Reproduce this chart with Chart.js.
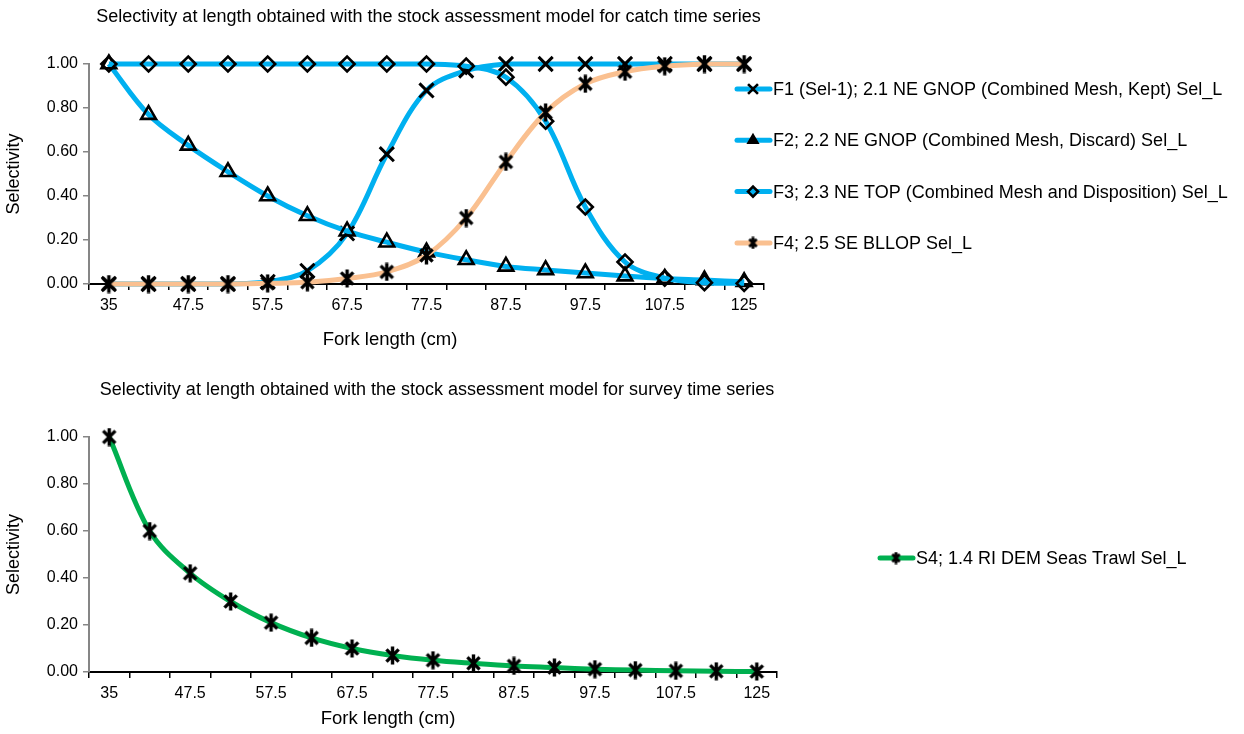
<!DOCTYPE html>
<html lang="en">
<head>
<meta charset="UTF-8">
<title>Selectivity at length</title>
<script src="https://cdn.jsdelivr.net/npm/chart.js"></script>
<style>
    body { margin: 0; background: #fff; }
    canvas { display: block; }
</style>
</head>
<body>
<canvas id="chartCatch" width="1244" height="364"></canvas>
<canvas id="chartSurvey" width="1244" height="370"></canvas>

<script>
    // categorias de comprimento (cm) - so metade aparece no eixo
    const lengths = ['35', '42.5', '47.5', '52.5', '57.5', '62.5', '67.5', '72.5', '77.5',
        '82.5', '87.5', '92.5', '97.5', '102.5', '107.5', '115', '125'];

    // seletividade - series de captura
    const f1Sel = [0, 0, 0, 0, 0.01, 0.06, 0.23, 0.59, 0.88, 0.97, 1, 1, 1, 1, 1, 1, 1];
    const f2Sel = [1, 0.77, 0.63, 0.51, 0.40, 0.31, 0.24, 0.19, 0.145, 0.11, 0.08, 0.064, 0.05, 0.036, 0.025, 0.018, 0.01];
    const f3Sel = [1, 1, 1, 1, 1, 1, 1, 1, 1, 0.99, 0.94, 0.74, 0.35, 0.10, 0.027, 0.006, 0.003];
    const f4Sel = [0, 0, 0, 0, 0.003, 0.008, 0.025, 0.055, 0.13, 0.30, 0.555, 0.78, 0.91, 0.965, 0.99, 1, 1];

    // seletividade - serie de pesquisa
    const s4Sel = [1, 0.60, 0.42, 0.30, 0.21, 0.145, 0.10, 0.07, 0.05, 0.037, 0.026, 0.019, 0.012, 0.008, 0.005, 0.003, 0.002];

    const yTicks = [0, 0.2, 0.4, 0.6, 0.8, 1.0];

    const FONT = '"Liberation Sans", Arial, sans-serif';
    const BLUE = '#00B0F0';
    const PEACH = '#FAC090';
    const GREEN = '#00B050';

    Chart.defaults.font.family = FONT;
    Chart.defaults.color = '#000';

    // marcador estrela do Excel: um X com traco vertical
    function marcadorEstrela(size, lw) {
        const c = document.createElement('canvas');
        c.width = size;
        c.height = size;
        const g = c.getContext('2d');
        g.strokeStyle = '#000';
        g.lineWidth = lw;
        const m = lw, s = size - lw;
        g.beginPath();
        g.moveTo(m, m); g.lineTo(s, s);
        g.moveTo(s, m); g.lineTo(m, s);
        g.moveTo(size / 2, 0.5); g.lineTo(size / 2, size - 0.5);
        g.stroke();
        return c;
    }
    const estrela = marcadorEstrela(19, 3.4);
    const estrelaLegenda = marcadorEstrela(13, 2.8);

    // titulos e legenda lateral desenhados no canvas
    const extrasPlugin = {
        id: 'extras',
        afterDraw(chart, args, opts) {
            const ctx = chart.ctx;
            const area = chart.chartArea;
            ctx.save();
            ctx.fillStyle = '#000';
            ctx.textBaseline = 'middle';
            ctx.textAlign = 'center';
            ctx.font = '18px ' + FONT;
            ctx.fillText(opts.title, (area.left + area.right) / 2 + opts.titleShift, opts.titleY);
            ctx.font = '18.5px ' + FONT;
            ctx.fillText('Fork length (cm)', opts.xTitleX, opts.xTitleY);

            ctx.textAlign = 'left';
            ctx.font = '18px ' + FONT;
            chart.data.datasets.forEach(function (ds, i) {
                const y = opts.legendTop + i * opts.legendGap;
                const x = opts.legendLeft;
                ctx.strokeStyle = ds.borderColor;
                ctx.lineWidth = 5;
                ctx.lineCap = 'round';
                ctx.beginPath();
                ctx.moveTo(x + 2, y);
                ctx.lineTo(x + 35, y);
                ctx.stroke();
                ctx.lineCap = 'butt';
                ctx.strokeStyle = '#000';
                ctx.lineWidth = 2.6;
                if (ds.pointStyle === estrela) {
                    ctx.drawImage(estrelaLegenda, x + 11.5, y - 6.5);
                } else {
                    ctx.fillStyle = ds.pointStyle == 'rectRot' ? ds.borderColor : '#000';
                    const r = ds.pointStyle == 'crossRot' ? 7 : 5;
                    Chart.helpers.drawPoint(ctx, { pointStyle: ds.pointStyle, radius: r, rotation: 0, borderWidth: 2.6 }, x + 18, y);
                }
                ctx.fillStyle = '#000';
                ctx.fillText(ds.label, x + 38, y + 1);
            });
            ctx.restore();
        }
    };

    function serie(label, data, color, style, order) {
        let raio = 7.5;
        if (style == 'triangle') raio = 8.5;
        if (style == 'crossRot') raio = 10;
        return {
            label: label,
            data: data,
            borderColor: color,
            backgroundColor: color,
            borderWidth: 5,
            tension: 0.35,
            pointStyle: style,
            pointRadius: raio,
            pointBorderColor: '#000',
            pointBackgroundColor: 'rgba(0,0,0,0)',
            pointBorderWidth: style == 'crossRot' ? 3 : 2.6,
            clip: false,
            order: order
        };
    }

    function opcoes(extras, xHeight) {
        return {
            responsive: false,
            animation: false,
            layout: { padding: extras.padding },
            plugins: {
                legend: { display: false },
                tooltip: { enabled: false },
                extras: extras
            },
            scales: {
                x: {
                    type: 'category',
                    offset: true,
                    afterFit: function (scale) { scale.height = xHeight; },
                    grid: { offset: true, drawOnChartArea: false, drawTicks: true, tickLength: 6, color: '#000', lineWidth: 1.5 },
                    border: { color: '#000', width: 2 },
                    ticks: {
                        autoSkip: false,
                        maxRotation: 0,
                        padding: 6,
                        font: { size: 16 },
                        callback: function (v, i) { return i % 2 == 0 ? lengths[i] : ''; }
                    }
                },
                y: {
                    min: 0,
                    max: 1,
                    afterFit: function (scale) { scale.width = 89; },
                    afterBuildTicks: function (scale) { scale.ticks = yTicks.map(v => ({ value: v })); },
                    grid: { drawOnChartArea: false, drawTicks: true, tickLength: 6, color: '#868686', lineWidth: 1.5 },
                    border: { color: '#868686', width: 2 },
                    ticks: {
                        padding: 5,
                        font: { size: 16 },
                        callback: function (v) { return Number(v).toFixed(2); }
                    },
                    title: { display: true, text: 'Selectivity', font: { size: 18 }, padding: { top: 3, bottom: 0 } }
                }
            }
        };
    }

    new Chart(document.getElementById('chartCatch'), {
        type: 'line',
        data: {
            labels: lengths,
            datasets: [
                serie('F1 (Sel-1); 2.1 NE GNOP (Combined Mesh, Kept) Sel_L', f1Sel, BLUE, 'crossRot', 4),
                serie('F2; 2.2 NE GNOP (Combined Mesh, Discard) Sel_L', f2Sel, BLUE, 'triangle', 3),
                serie('F3; 2.3 NE TOP (Combined Mesh and Disposition) Sel_L', f3Sel, BLUE, 'rectRot', 2),
                serie('F4; 2.5 SE BLLOP Sel_L', f4Sel, PEACH, estrela, 1)
            ]
        },
        options: opcoes({
            padding: { top: 64, right: 480, left: 0, bottom: 0 },
            title: 'Selectivity at length obtained with the stock assessment model for catch time series',
            titleY: 17, titleShift: 2,
            xTitleX: 390, xTitleY: 340,
            legendLeft: 735, legendTop: 89, legendGap: 51.3
        }, 80),
        plugins: [extrasPlugin]
    });

    new Chart(document.getElementById('chartSurvey'), {
        type: 'line',
        data: {
            labels: lengths,
            datasets: [
                serie('S4; 1.4 RI DEM Seas Trawl Sel_L', s4Sel, GREEN, estrela, 1)
            ]
        },
        options: opcoes({
            padding: { top: 73, right: 467, left: 0, bottom: 0 },
            title: 'Selectivity at length obtained with the stock assessment model for survey time series',
            titleY: 26, titleShift: 4,
            xTitleX: 388, xTitleY: 355,
            legendLeft: 878, legendTop: 194, legendGap: 50
        }, 62),
        plugins: [extrasPlugin]
    });
</script>
</body>
</html>
